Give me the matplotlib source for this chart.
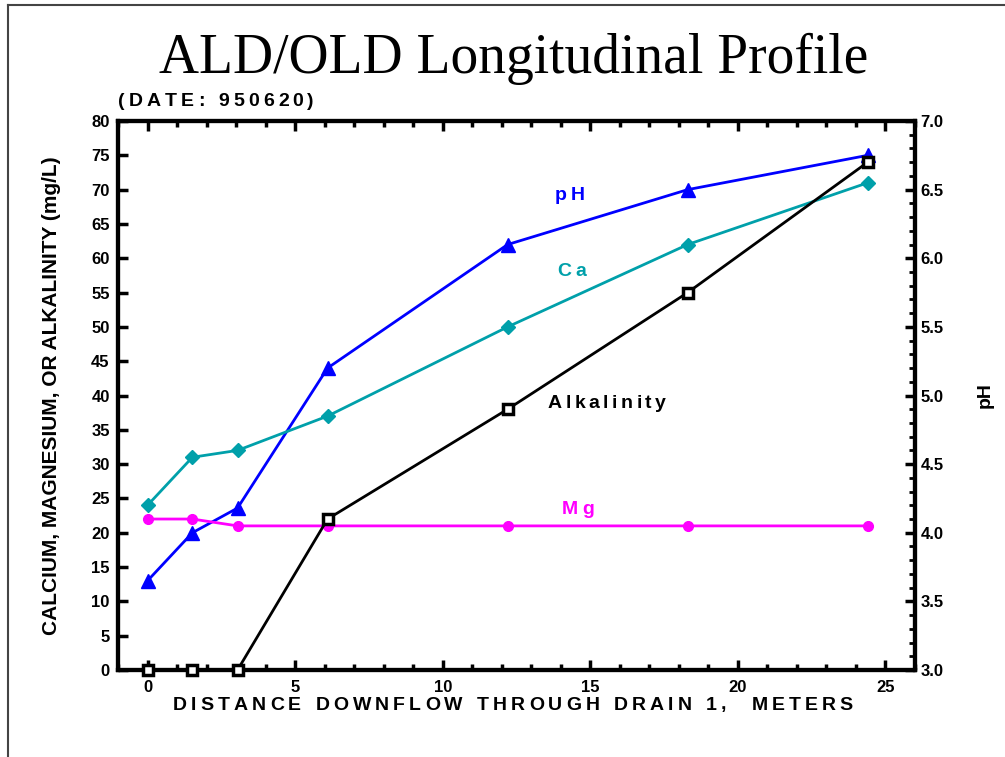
import matplotlib
matplotlib.use("Agg")
import matplotlib.pyplot as plt
from matplotlib.lines import Line2D
from matplotlib.ticker import MultipleLocator

# distance downflow through drain 1 (m)
distance = [0, 1.52, 3.05, 6.1, 12.2, 18.3, 24.4]

calcium = [24, 31, 32, 37, 50, 62, 71]
magnesium = [22, 22, 21, 21, 21, 21, 21]
alkalinity = [0, 0, 0, 22, 38, 55, 74]
ph = [3.65, 4.0, 4.18, 5.2, 6.1, 6.5, 6.75]

left_ticks = list(range(0, 85, 5))
right_ticks = [3.0, 3.5, 4.0, 4.5, 5.0, 5.5, 6.0, 6.5, 7.0]
x_ticks = [0, 5, 10, 15, 20, 25]

BLUE = "#0000ff"
TEAL = "#00a0aa"
MAGENTA = "#ff00ff"

bold = dict(family="Liberation Sans", fontweight="bold")

W, H = 1005, 757


def spaced_text(fig, x, y, s, spacing, ha="left", **kw):
    # draw s one char at a time so the letters can be spread out (x, y in pixels from top-left)
    fig.canvas.draw()
    r = fig.canvas.get_renderer()
    widths = []
    for ch in s:
        t = fig.text(0, 0, ch if ch != " " else "n", **kw)
        bb = t.get_window_extent(r)
        widths.append(bb.width * (0.55 if ch == " " else 1.0))
        t.remove()
    total = sum(widths) + spacing * (len(s) - 1)
    cx = x - total / 2 if ha == "center" else x
    for ch, w in zip(s, widths):
        if ch != " ":
            fig.text(cx / W, 1 - y / H, ch, ha="left", va="center", **kw)
        cx += w + spacing


fig = plt.figure(figsize=(W / 100, H / 100), dpi=100)
ax = fig.add_axes([118 / W, 1 - 670 / H, 797 / W, 549 / H])
ax2 = ax.twinx()
ax.set_zorder(ax2.get_zorder() + 1)
ax.patch.set_visible(False)

ax2.plot(distance, ph, color=BLUE, lw=2, marker="^", ms=10, zorder=3)
ax.plot(distance, calcium, color=TEAL, lw=2, marker="D", ms=7, zorder=3)
ax.plot(distance, magnesium, color=MAGENTA, lw=2, marker="o", ms=7, zorder=3)
ax.plot(distance, alkalinity, color="black", lw=2, marker="s", ms=7.5,
        mfc="white", mec="black", mew=2.5, zorder=4, clip_on=False)

ax.set_xlim(-1, 26)
ax.set_ylim(0, 80)
ax2.set_ylim(3, 7)

ax.set_xticks(x_ticks)
ax.xaxis.set_minor_locator(MultipleLocator(1))
ax.set_yticks(left_ticks)
ax2.set_yticks(right_ticks)
ax2.yaxis.set_minor_locator(MultipleLocator(0.1))
ax.set_xticklabels([str(v) for v in x_ticks], fontsize=12, **bold)
ax.set_yticklabels([str(v) for v in left_ticks], fontsize=12, **bold)
ax2.set_yticklabels([f"{v:.1f}" for v in right_ticks], fontsize=12, **bold)

ax.tick_params(axis="x", which="both", direction="in", top=True, width=2.5, pad=7)
ax.tick_params(axis="x", which="major", length=7)
ax.tick_params(axis="x", which="minor", length=4)
ax.tick_params(axis="y", which="major", direction="in", length=7, width=2.5, pad=6)
ax2.tick_params(axis="y", which="major", direction="in", length=7, width=2.5, pad=4)
ax2.tick_params(axis="y", which="minor", direction="in", length=4, width=2)
for a in (ax, ax2):
    for sp in a.spines.values():
        sp.set_linewidth(3)

ax.set_ylabel("CALCIUM, MAGNESIUM, OR ALKALINITY (mg/L)", fontsize=15, labelpad=22, **bold)
ax2.set_ylabel("pH", fontsize=14, labelpad=24, **bold)

fig.suptitle("ALD/OLD Longitudinal Profile", x=0.511, y=0.957, fontsize=40, family="Liberation Serif")

# slide border
fig.add_artist(Line2D([8 / W, 8 / W], [0, 1 - 5 / H], color="#444444", lw=1.5))
fig.add_artist(Line2D([8 / W, 1], [1 - 5 / H, 1 - 5 / H], color="#444444", lw=1.5))

spaced_text(fig, 118, 101, "(DATE: 950620)", 4, fontsize=14, **bold)
spaced_text(fig, 570, 195, "pH", 4, ha="center", color=BLUE, fontsize=14, **bold)
spaced_text(fig, 572, 272, "Ca", 4, ha="center", color=TEAL, fontsize=14, **bold)
spaced_text(fig, 607, 403, "Alkalinity", 3.5, ha="center", color="black", fontsize=14, **bold)
spaced_text(fig, 578, 509, "Mg", 4, ha="center", color=MAGENTA, fontsize=14, **bold)

spaced_text(fig, 513, 705, "DISTANCE DOWNFLOW THROUGH DRAIN 1,  METERS", 4, ha="center",
            fontsize=14, **bold)

fig.savefig("out.png", dpi=100)
